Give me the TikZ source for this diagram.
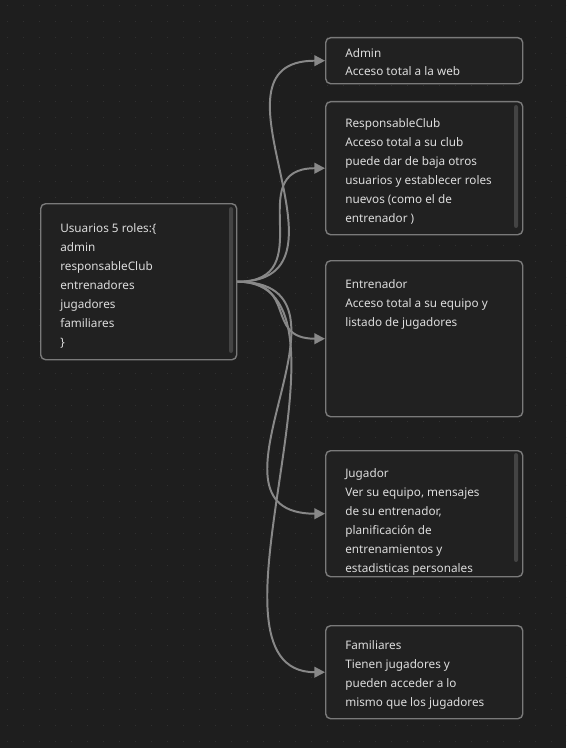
\documentclass[tikz,border=0pt]{standalone}
\usepackage{fontspec}
\setmainfont{Noto Sans}
\usetikzlibrary{arrows.meta}
\definecolor{bg}{HTML}{1E1E1E}
\definecolor{cardfill}{HTML}{212121}
\definecolor{cardline}{HTML}{7A7A7A}
\definecolor{cardtext}{HTML}{DCDCDC}
\definecolor{wire}{HTML}{888888}
\definecolor{griddot}{HTML}{303030}
\definecolor{scrollbar}{HTML}{444444}
\tikzset{
  card/.style={draw=cardline, fill=cardfill, line width=1pt, rounded corners=3.5pt,
    anchor=north west, inner sep=0pt, minimum width=4.925cm},
  cardtxt/.style={text=cardtext, anchor=base west, inner sep=0pt, align=left,
    font=\fontsize{8.35pt}{13.5pt}\selectfont},
  wireline/.style={draw=wire, line width=1.4pt, -{Triangle[length=7.5pt,width=7.5pt]}},
  sbar/.style={fill=scrollbar, rounded corners=1.5pt}
}
\begin{document}
\begin{tikzpicture}[x=0.025cm, y=-0.025cm]
  \fill[bg] (0,0) rectangle (566,748);
  \useasboundingbox (0,0) rectangle (566,748);
  \foreach \i in {0,...,35}
    \foreach \j in {0,...,46}
      \fill[griddot] (7.5+16*\i,5.5+16*\j) circle [radius=0.6];

  % cards
  \node[card, minimum width=4.9cm, minimum height=3.9cm] (usuarios) at (40,203) {};
  \node[card, minimum height=1.15cm] (admin) at (325,37) {};
  \node[card, minimum height=3.325cm] (resp) at (325,101) {};
  \node[card, minimum height=3.9cm] (entren) at (325,260) {};
  \node[card, minimum height=3.15cm] (jugador) at (325,450) {};
  \node[card, minimum height=2.325cm] (famil) at (325,625) {};

  \fill[sbar] (229,207) rectangle (233,353);
  \fill[sbar] (514,105) rectangle (518,228);
  \fill[sbar] (514,453) rectangle (518,562);

  % texts, placed by the baseline of their last line
  \node[cardtxt] (usuariostxt) at (60,346) {Usuarios 5 roles:\{\\admin\\responsableClub\\entrenadores\\jugadores\\familiares\\\}};
  \node[cardtxt] (admintxt) at (345,76) {Admin\\Acceso total a la web};
  \node[cardtxt] (resptxt) at (345,222) {ResponsableClub\\Acceso total a su club\\puede dar de baja otros\\usuarios y establecer roles\\nuevos (como el de\\entrenador )};
  \node[cardtxt] (entrentxt) at (345,326) {Entrenador\\Acceso total a su equipo y\\listado de jugadores};
  \node[cardtxt] (jugadortxt) at (345,572) {Jugador\\Ver su equipo, mensajes\\de su entrenador,\\planificaci\'on de\\entrenamientos y\\estadisticas personales};
  \node[cardtxt] (familtxt) at (345,706) {Familiares\\Tienen jugadores y\\pueden acceder a lo\\mismo que los jugadores};

  % edges
  \draw[wireline] (usuarios.east) .. controls +(130,0) and +(-130,0) .. (admin.west);
  \draw[wireline] (usuarios.east) .. controls +(85,0) and +(-85,0) .. (resp.west);
  \draw[wireline] (usuarios.east) .. controls +(62,0) and +(-62,0) .. (entren.west);
  \draw[wireline] (usuarios.east) .. controls +(140,0) and +(-140,0) .. (jugador.west);
  \draw[wireline] (usuarios.east) .. controls +(140,0) and +(-140,0) .. (famil.west);
\end{tikzpicture}
\end{document}
